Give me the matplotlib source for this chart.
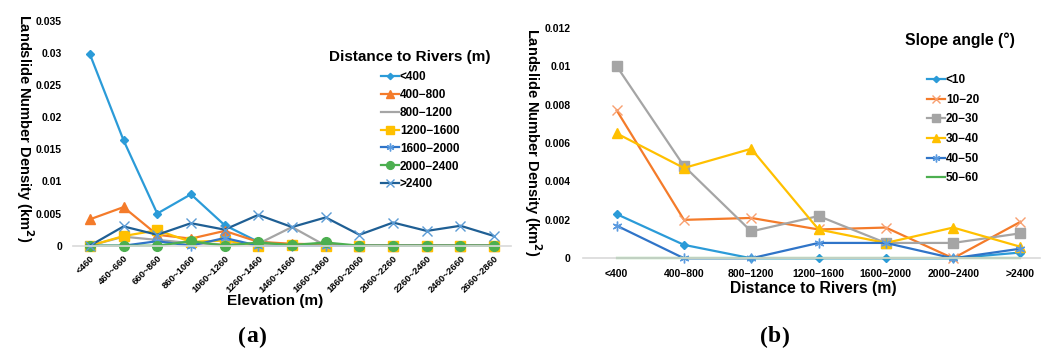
import numpy as np
import matplotlib
matplotlib.use('Agg')
import matplotlib.pyplot as plt
from matplotlib.ticker import FuncFormatter, MultipleLocator

plt.rcParams['font.family'] = ['Liberation Sans', 'DejaVu Sans']
plt.rcParams['font.weight'] = 'bold'

# panel (a): elevation classes vs distance to rivers
elev_labels = ['<460', '460~660', '660~860', '860~1060', '1060~1260', '1260~1460',
               '1460~1660', '1660~1860', '1860~2060', '2060~2260', '2260~2460',
               '2460~2660', '2660~2860']
riv_names = ['<400', '400\u2212800', '800\u22121200', '1200\u22121600',
             '1600\u22122000', '2000\u22122400', '>2400']
riv_lt400 = [0.0298, 0.0164, 0.0050, 0.0080, 0.0032, 0.0006, 0.0001, 0, 0, 0, 0, 0, 0]
riv_400_800 = [0.0041, 0.0060, 0.0017, 0.0011, 0.0023, 0.0006, 0.0003, 0.0002, 0, 0, 0, 0, 0]
riv_800_1200 = [0, 0.0014, 0.0009, 0.0004, 0.0002, 0.0003, 0.0029, 0, 0, 0, 0, 0, 0]
riv_1200_1600 = [0, 0.0015, 0.0024, 0.0006, 0.0008, 0, 0.0001, 0, 0, 0, 0, 0, 0]
riv_1600_2000 = [0, 0, 0.0007, 0, 0.0012, 0, 0, 0, 0, 0, 0, 0, 0]
riv_2000_2400 = [0, 0, 0, 0.0007, 0, 0.0005, 0.0001, 0.0005, 0, 0, 0, 0, 0]
riv_gt2400 = [0, 0.0030, 0.0017, 0.0035, 0.0025, 0.0048, 0.0029, 0.0044, 0.0017,
              0.0036, 0.0023, 0.0031, 0.0015]

# panel (b): distance to rivers vs slope angle
dist_labels = ['<400', '400\u2212800', '800\u22121200', '1200\u22121600',
               '1600\u22122000', '2000\u22122400', '>2400']
slope_names = ['<10', '10\u221220', '20\u221230', '30\u221240', '40\u221250', '50\u221260']
slope_lt10 = [0.0023, 0.0007, 0, 0, 0, 0, 0.0003]
slope_10_20 = [0.0077, 0.0020, 0.0021, 0.0015, 0.0016, 0, 0.0019]
slope_20_30 = [0.0100, 0.0048, 0.0014, 0.0022, 0.0008, 0.0008, 0.0013]
slope_30_40 = [0.0065, 0.0047, 0.0057, 0.0015, 0.0008, 0.0016, 0.0006]
slope_40_50 = [0.0017, 0, 0, 0.0008, 0.0008, 0, 0.0005]
slope_50_60 = [0, 0, 0, 0, 0, 0, 0]

c_lblue = '#2B9BD8'
c_orange = '#F47B2A'
c_gray = '#A5A5A5'
c_yellow = '#FFC000'
c_blue = '#2F74C8'
c_green = '#4CAF50'
c_dblue = '#1F5F94'
star = (6, 2, 0)
serif = ['Liberation Serif', 'DejaVu Serif']

fig = plt.figure(figsize=(10.51, 3.52), dpi=100)
W, H = 1051.0, 352.0


def axes_px(x0, x1, ytop, ybot):
    return fig.add_axes([x0 / W, 1 - ybot / H, (x1 - x0) / W, (ybot - ytop) / H])


def style_axes(ax, ymax, step):
    ax.set_ylim(0, ymax)
    ax.yaxis.set_major_locator(MultipleLocator(step))
    ax.yaxis.set_major_formatter(FuncFormatter(lambda v, p: '%g' % round(v, 4)))
    for s in ['top', 'right', 'left']:
        ax.spines[s].set_visible(False)
    ax.spines['bottom'].set_color('#D9D9D9')
    ax.spines['bottom'].set_linewidth(1.2)
    ax.tick_params(length=0)
    ax.patch.set_alpha(0)


def panel_letter(x, y, letter):
    fig.text(x / W, 1 - y / H, '(', ha='right', va='center', fontsize=17, family=serif)
    t = fig.text(x / W, 1 - y / H, letter, ha='left', va='center', fontsize=17,
                 fontweight='bold', family=serif)
    fig.canvas.draw()
    bb = t.get_window_extent()
    fig.text(bb.x1 / W, 1 - y / H, ')', ha='left', va='center', fontsize=17, family=serif)


# ---- (a)
ax1 = axes_px(73, 511, 20.7, 245.7)
xa = np.arange(len(elev_labels))
series_a = [
    (riv_lt400, c_lblue, 'D', 4, c_lblue),
    (riv_400_800, c_orange, '^', 6.5, c_orange),
    (riv_800_1200, c_gray, None, 0, c_gray),
    (riv_1200_1600, c_yellow, 's', 6.5, c_yellow),
    (riv_1600_2000, c_blue, star, 7, '#5B9BE0'),
    (riv_2000_2400, c_green, 'o', 7, c_green),
    (riv_gt2400, c_dblue, 'x', 7, '#5B9BD5'),
]
for vals, col, mk, ms, mec in series_a:
    ax1.plot(xa, vals, color=col, lw=1.6, marker=mk, ms=ms, mec=mec, mfc=col,
             mew=1.0, clip_on=False)
style_axes(ax1, 0.035, 0.005)
ax1.set_xlim(-0.5, len(elev_labels) - 0.5)
ax1.set_xticks(xa)
ax1.set_xticklabels(elev_labels, rotation=45, ha='right', rotation_mode='anchor',
                    fontsize=6.8, fontweight='bold')
ax1.tick_params(axis='x', pad=6)
ax1.tick_params(axis='y', pad=8, labelsize=7.5)
for t in ax1.get_yticklabels():
    t.set_fontweight('bold')

fig.text(25 / W, 1 - 128 / H, 'Landslide Number Density (km$^{\\mathbf{2}}$)',
         rotation=-90, ha='center', va='center', fontsize=10.5, fontweight='bold')
fig.text(275 / W, 1 - 301 / H, 'Elevation (m)', ha='center', va='center',
         fontsize=11, fontweight='bold')
fig.text(410 / W, 1 - 57 / H, 'Distance to Rivers (m)', ha='center', va='center',
         fontsize=11, fontweight='bold')
h1 = ax1.get_lines()
fig.legend(h1, riv_names, loc='upper left', bbox_to_anchor=(381 / W, 1 - 71 / H),
           frameon=False, handlelength=1.5, handletextpad=0.1,
           labelspacing=0.5, borderpad=0, borderaxespad=0, markerscale=0.8,
           prop={'weight': 'bold', 'size': 8.5})

# ---- (b)
ax2 = axes_px(583, 1040, 27.7, 258.3)
xb = np.arange(len(dist_labels))
series_b = [
    (slope_lt10, c_lblue, 'D', 4, c_lblue),
    (slope_10_20, c_orange, 'x', 7, '#F8A070'),
    (slope_20_30, c_gray, 's', 6.5, c_gray),
    (slope_30_40, c_yellow, '^', 7, c_yellow),
    (slope_40_50, c_blue, star, 7, '#5B9BE0'),
    (slope_50_60, c_green, None, 0, c_green),
]
for vals, col, mk, ms, mec in series_b:
    ax2.plot(xb, vals, color=col, lw=1.6, marker=mk, ms=ms, mec=mec, mfc=col,
             mew=1.0, clip_on=False)
style_axes(ax2, 0.012, 0.002)
ax2.set_xlim(-0.5, -0.5 + (1040 - 583) / 67.3)
ax2.set_xticks(xb)
ax2.set_xticklabels(dist_labels, fontsize=7.5, fontweight='bold')
ax2.tick_params(axis='x', pad=8)
ax2.tick_params(axis='y', pad=9, labelsize=7.5)
for t in ax2.get_yticklabels():
    t.set_fontweight('bold')

fig.text(533 / W, 1 - 142 / H, 'Landslide Number Density (km$^{\\mathbf{2}}$)',
         rotation=-90, ha='center', va='center', fontsize=10.5, fontweight='bold')
fig.text(813 / W, 1 - 289 / H, 'Distance to Rivers (m)', ha='center', va='center',
         fontsize=11.3, fontweight='bold')
fig.text(960 / W, 1 - 40 / H, 'Slope angle (\u00b0)', ha='center', va='center',
         fontsize=11.3, fontweight='bold')
h2 = ax2.get_lines()
fig.legend(h2, slope_names, loc='upper left', bbox_to_anchor=(927 / W, 1 - 74 / H),
           frameon=False, handlelength=1.5, handletextpad=0.1,
           labelspacing=0.65, borderpad=0, borderaxespad=0, markerscale=0.8,
           prop={'weight': 'bold', 'size': 8.5})

# panel letters
panel_letter(246, 337, 'a')
panel_letter(768, 337, 'b')

fig.savefig('out.png', dpi=100)
